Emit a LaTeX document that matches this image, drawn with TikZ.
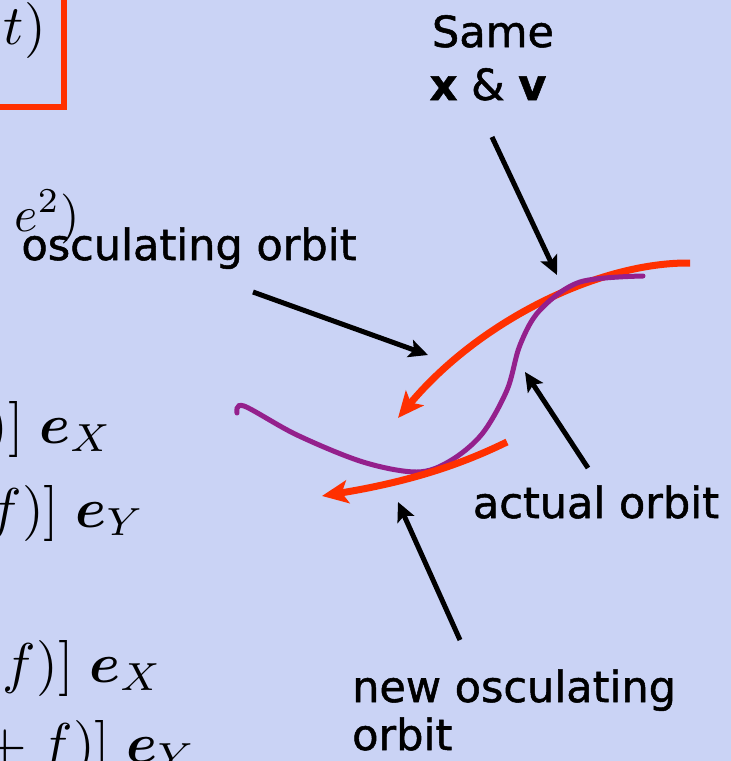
\documentclass[tikz,border=0pt]{standalone}
\usepackage{amsmath}
\usepackage{fontspec}
\newfontfamily\lab[FakeBold=1.2]{DejaVu Sans}
\usetikzlibrary{arrows.meta}
\definecolor{bg}{RGB}{202,211,245}
\definecolor{ored}{RGB}{255,48,0}
\definecolor{opurple}{RGB}{148,32,140}
\newcommand{\mathbig}[1]{\scalebox{5.6}{#1}}
\tikzset{
  lbl/.style={font=\lab\fontsize{43}{48}\selectfont, inner sep=0pt, anchor=base},
  mth/.style={inner sep=0pt, anchor=base east},
  pointer/.style={draw=black, line width=5pt, -{Stealth[length=19pt,width=18pt,inset=4pt]}},
  oscul/.style={draw=ored, line width=7pt, -{Stealth[length=26pt,width=23pt,inset=6pt]}},
  actual/.style={draw=opurple, line width=5pt, line cap=round},
  redbox/.style={draw=ored, line width=6pt},
}
\begin{document}
\begin{tikzpicture}[x=1pt,y=-1pt]
\useasboundingbox (0,0) rectangle (731,761);
\clip (0,0) rectangle (731,761);
\fill[bg] (0,0) rectangle (731,761);

% cut-off formula fragments on the left
\draw[redbox] (-20,-20) rectangle (64,107);
\node[mth] (m1) at (46,44) {\mathbig{$t)$}};
\node[mth] (m2) at (80,231) {\scalebox{5}{$e^2)$}};
\node[mth] (m3) at (113,443) {\mathbig{$)]\;\boldsymbol{e}_X$}};
\node[mth] (m4) at (145,527) {\mathbig{$f)]\;\boldsymbol{e}_Y$}};
\node[mth] (m5) at (163,682) {\mathbig{${}+f)]\;\boldsymbol{e}_X$}};
\node[mth] (m6) at (196,762) {\mathbig{${}+f)]\;\boldsymbol{e}_Y$}};

% labels
\node[lbl] (same) at (493,47) {Same};
\node[lbl] (xv) at (488,100) {\textbf{x} \& \textbf{v}};
\node[lbl] (osc) at (189,260) {osculating orbit};
\node[lbl] (act) at (596,518) {actual orbit};
\node[lbl, anchor=base west] (new1) at (352,702) {new osculating};
\node[lbl, anchor=base west] (new2) at (352,750) {orbit};

% orbits
\draw[oscul] (690,263) .. controls (600,262) and (480,320) .. (398,418);
\draw[actual] plot[smooth, tension=0.55] coordinates {(237,413) (244,406) (297,435) (363,462) (417,472) (450,461) (482,434) (507,390) (520,345) (540,310) (580,282) (643,276)};
\draw[oscul] (507,442) .. controls (470,460) and (420,480) .. (322,496);

% pointer arrows
\coordinate (p1s) at (492,137); \coordinate (p1e) at (557,275);
\coordinate (p2s) at (253,292); \coordinate (p2e) at (428,355);
\coordinate (p3s) at (588,468); \coordinate (p3e) at (525,372);
\coordinate (p4s) at (460,640); \coordinate (p4e) at (398,502);
\draw[pointer] (p1s) -- (p1e);
\draw[pointer] (p2s) -- (p2e);
\draw[pointer] (p3s) -- (p3e);
\draw[pointer] (p4s) -- (p4e);
\end{tikzpicture}
\end{document}
